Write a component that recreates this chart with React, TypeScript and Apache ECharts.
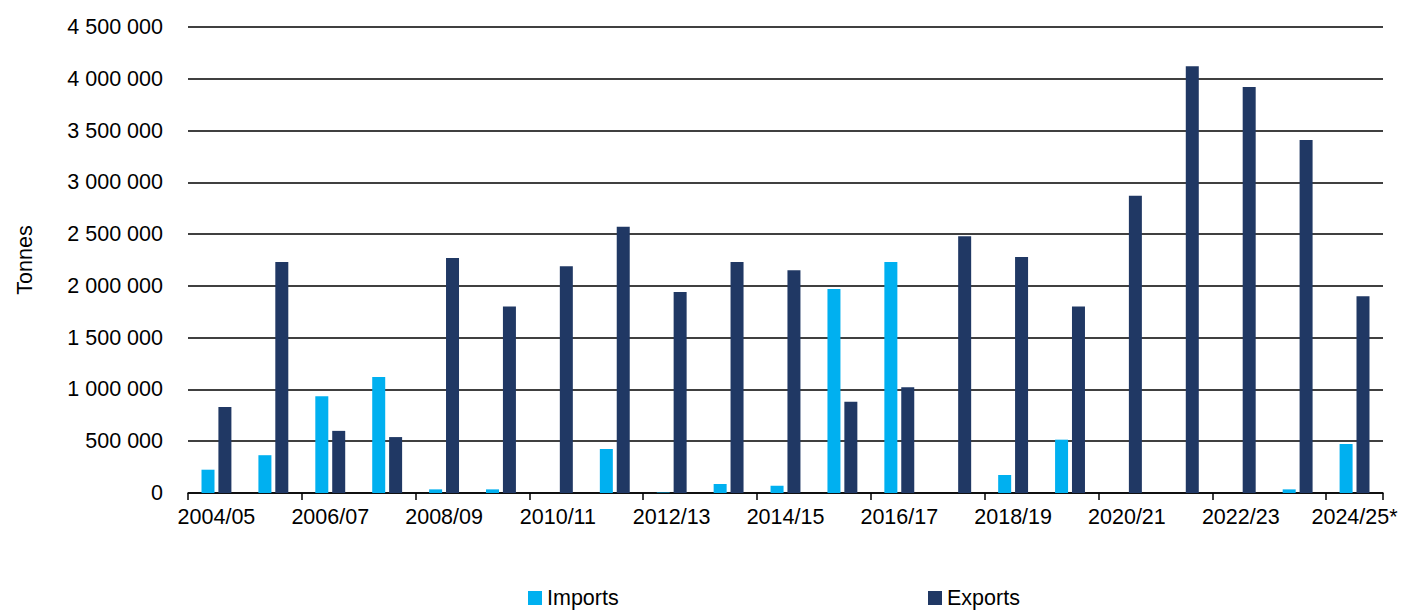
import React, { useEffect, useRef } from "react";
import * as echarts from "echarts";

const categories = [
  "2004/05", "2005/06", "2006/07", "2007/08", "2008/09", "2009/10", "2010/11",
  "2011/12", "2012/13", "2013/14", "2014/15", "2015/16", "2016/17", "2017/18",
  "2018/19", "2019/20", "2020/21", "2021/22", "2022/23", "2023/24", "2024/25*",
];

const imports = [
  225000, 365000, 935000, 1120000, 35000, 35000, 0, 425000, 5000, 87000, 70000,
  1970000, 2230000, 0, 174000, 515000, 0, 0, 0, 35000, 473000,
];

const exports = [
  830000, 2230000, 600000, 540000, 2270000, 1800000, 2190000, 2570000, 1940000,
  2230000, 2150000, 880000, 1020000, 2480000, 2280000, 1800000, 2870000, 4120000,
  3920000, 3410000, 1900000,
];

const yMin = 0;
const yMax = 4500000;
const yStep = 500000;

const FONT = "'Liberation Sans', Arial, sans-serif";
const FS = 21.5;

function fmt(v: number): string {
  return String(Math.round(v)).replace(/\B(?=(\d{3})+(?!\d))/g, " ");
}

export default function App() {
  const ref = useRef<HTMLDivElement>(null);
  useEffect(() => {
    if (!ref.current) return;
    const chart = echarts.init(ref.current, null, { renderer: "svg" });
    chart.setOption({
      animation: false,
      backgroundColor: "#ffffff",
      textStyle: { fontFamily: FONT, color: "#000" },
      grid: { left: 188, right: 20, top: 27, bottom: 119, containLabel: false },
      legend: [
        {
          data: ["Imports"],
          left: 526,
          top: 585,
          padding: [2, 2, 2, 2],
          itemWidth: 14,
          itemHeight: 14,
          icon: "rect",
          textStyle: { fontFamily: FONT, fontSize: FS, color: "#000" },
        },
        {
          data: ["Exports"],
          left: 926,
          top: 585,
          padding: [2, 2, 2, 2],
          itemWidth: 14,
          itemHeight: 14,
          icon: "rect",
          textStyle: { fontFamily: FONT, fontSize: FS, color: "#000" },
        },
      ],
      xAxis: {
        type: "category",
        data: categories,
        axisLine: { show: true, lineStyle: { color: "#000", width: 1.5 } },
        axisTick: { show: true, interval: 1, length: 7, lineStyle: { color: "#000", width: 1.5 } },
        axisLabel: {
          interval: 1,
          margin: 13,
          fontFamily: FONT,
          fontSize: FS,
          color: "#000",
        },
      },
      yAxis: {
        type: "value",
        min: yMin,
        max: yMax,
        interval: yStep,
        name: "Tonnes",
        nameLocation: "middle",
        nameGap: 152,
        nameTextStyle: { fontFamily: FONT, fontSize: FS, color: "#000" },
        axisLine: { show: false },
        axisTick: { show: false },
        axisLabel: {
          margin: 25,
          fontFamily: FONT,
          fontSize: FS,
          color: "#000",
          formatter: (v: number) => fmt(v),
        },
        splitLine: { show: true, lineStyle: { color: "#000", width: 1.5 } },
      },
      series: [
        {
          name: "Imports",
          type: "bar",
          data: imports,
          barWidth: 13,
          barGap: "30%",
          itemStyle: { color: "#00B0F0" },
        },
        {
          name: "Exports",
          type: "bar",
          data: exports,
          barWidth: 13,
          barGap: "30%",
          itemStyle: { color: "#203864" },
        },
      ],
    });
    return () => chart.dispose();
  }, []);
  return (
    <div
      ref={ref}
      style={{ position: "fixed", left: 0, top: 0, width: 1403, height: 612 }}
    />
  );
}
